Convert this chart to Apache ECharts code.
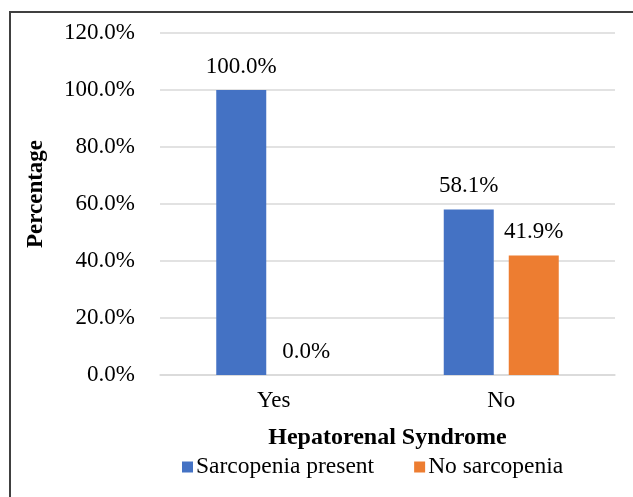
<!DOCTYPE html>
<html>
<head>
<meta charset="utf-8">
<title>Hepatorenal Syndrome and Sarcopenia</title>
<script src="https://cdn.jsdelivr.net/npm/echarts@6/dist/echarts.min.js"></script>
<style>
  html, body { margin: 0; padding: 0; background: #ffffff; }
  #chart { width: 633px; height: 497px; }
</style>
</head>
<body>
<div id="chart"></div>
<script>
// Categories on the x axis
const categories = ['Yes', 'No'];
// Percentage of patients in each group
const sarcopeniaPresent = [100.0, 58.1];
const noSarcopenia = [0.0, 41.9];
// Y axis ticks (percent)
const yTicks = [0, 20, 40, 60, 80, 100, 120];

const seriesNames = ['Sarcopenia present', 'No sarcopenia'];
const FONT = '"Liberation Serif", "Times New Roman", serif';

const chart = echarts.init(document.getElementById('chart'), null, { renderer: 'canvas' });

const labelStyle = {
  show: true,
  position: 'top',
  distance: 12,
  fontFamily: FONT,
  fontSize: 23,
  color: '#000000',
  formatter: p => p.value.toFixed(1) + '%'
};

chart.setOption({
  backgroundColor: '#ffffff',
  animation: false,
  graphic: [{
    type: 'rect',
    shape: { x: 10, y: 12, width: 640, height: 500 },
    style: { fill: 'none', stroke: '#404040', lineWidth: 2 },
    silent: true
  }],
  grid: { left: 160, right: 18, top: 33, bottom: 122 },
  legend: {
    data: seriesNames,
    bottom: 13,
    left: 177,
    itemWidth: 11,
    itemHeight: 11,
    itemGap: 40,
    icon: 'rect',
    textStyle: { fontFamily: FONT, fontSize: 23.5, color: '#000000', padding: [0, 0, 0, -2] }
  },
  xAxis: {
    type: 'category',
    data: categories,
    name: 'Hepatorenal Syndrome',
    nameLocation: 'middle',
    nameGap: 51,
    nameTextStyle: { fontFamily: FONT, fontSize: 24, fontWeight: 'bold', color: '#000000' },
    axisLine: { lineStyle: { color: '#d9d9d9', width: 1.5 } },
    axisTick: { show: false },
    axisLabel: { fontFamily: FONT, fontSize: 23, color: '#000000', margin: 14 }
  },
  yAxis: {
    type: 'value',
    min: yTicks[0],
    max: yTicks[yTicks.length - 1],
    interval: yTicks[1] - yTicks[0],
    name: 'Percentage',
    nameLocation: 'middle',
    nameGap: 112,
    nameRotate: 90,
    nameTextStyle: {
      fontFamily: FONT, fontSize: 23, fontWeight: 'bold', color: '#000000',
      padding: [0, 0, 0, 20]
    },
    axisLine: { show: false },
    axisTick: { show: false },
    splitLine: { lineStyle: { color: '#d9d9d9', width: 1.5 } },
    axisLabel: {
      fontFamily: FONT, fontSize: 23, color: '#000000', margin: 25,
      formatter: v => v.toFixed(1) + '%'
    }
  },
  series: [
    {
      name: seriesNames[0],
      type: 'bar',
      data: sarcopeniaPresent,
      barWidth: 50,
      barGap: '30%',
      itemStyle: { color: '#4472c4' },
      label: labelStyle
    },
    {
      name: seriesNames[1],
      type: 'bar',
      data: noSarcopenia,
      barWidth: 50,
      itemStyle: { color: '#ed7d31' },
      label: labelStyle
    }
  ]
});
</script>
</body>
</html>
